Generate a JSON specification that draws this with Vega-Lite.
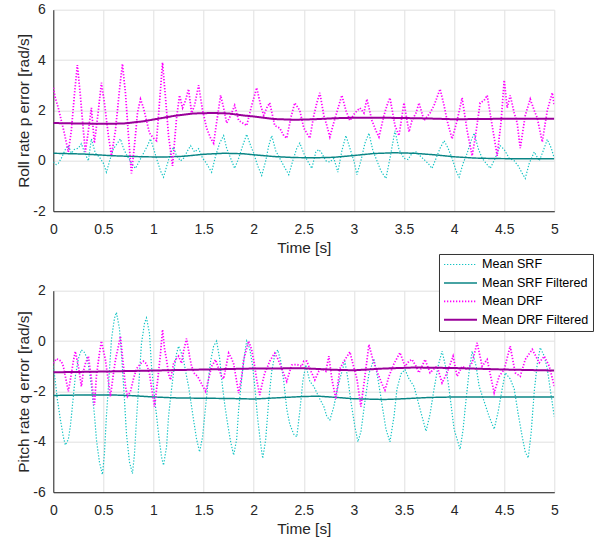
{
  "$schema": "https://vega.github.io/schema/vega-lite/v6.json",
  "background": "white",
  "padding": {"left": 16.3, "top": 2.7, "right": 0, "bottom": 0},
  "config": {
    "font": "Liberation Sans",
    "view": {"stroke": null},
    "axis": {
      "labelFont": "Liberation Sans", "titleFont": "Liberation Sans",
      "labelFontSize": 14, "titleFontSize": 15.4, "titleFontWeight": "normal",
      "labelColor": "#262626", "titleColor": "#262626",
      "domainColor": "#262626", "tickColor": "#262626", "tickSize": 0,
      "gridColor": "#e0e0e0", "labelFlush": false, "labelOverlap": false
    },
    "axisX": {"labelPadding": 11, "titlePadding": 4},
    "axisY": {"labelPadding": 8, "titlePadding": 1}
  },
  "datasets": {
    "top": [
      {"t":0.00,"v":-0.05,"s":"Mean SRF"},{"t":0.03,"v":-0.15,"s":"Mean SRF"},{"t":0.05,"v":-0.1,"s":"Mean SRF"},{"t":0.08,"v":0.1,"s":"Mean SRF"},{"t":0.12,"v":0.45,"s":"Mean SRF"},{"t":0.15,"v":0.6,"s":"Mean SRF"},{"t":0.18,"v":0.3,"s":"Mean SRF"},{"t":0.21,"v":0.45,"s":"Mean SRF"},{"t":0.25,"v":0.5,"s":"Mean SRF"},{"t":0.28,"v":0.68,"s":"Mean SRF"},{"t":0.31,"v":0.35,"s":"Mean SRF"},{"t":0.35,"v":0.0,"s":"Mean SRF"},{"t":0.38,"v":0.87,"s":"Mean SRF"},{"t":0.42,"v":0.3,"s":"Mean SRF"},{"t":0.46,"v":0.15,"s":"Mean SRF"},{"t":0.50,"v":-0.1,"s":"Mean SRF"},{"t":0.53,"v":-0.45,"s":"Mean SRF"},{"t":0.57,"v":0.1,"s":"Mean SRF"},{"t":0.60,"v":0.48,"s":"Mean SRF"},{"t":0.64,"v":0.7,"s":"Mean SRF"},{"t":0.67,"v":0.87,"s":"Mean SRF"},{"t":0.70,"v":0.5,"s":"Mean SRF"},{"t":0.73,"v":0.25,"s":"Mean SRF"},{"t":0.78,"v":-0.1,"s":"Mean SRF"},{"t":0.82,"v":-0.3,"s":"Mean SRF"},{"t":0.86,"v":0.0,"s":"Mean SRF"},{"t":0.90,"v":0.3,"s":"Mean SRF"},{"t":0.94,"v":0.6,"s":"Mean SRF"},{"t":0.97,"v":0.87,"s":"Mean SRF"},{"t":1.00,"v":0.5,"s":"Mean SRF"},{"t":1.03,"v":0.1,"s":"Mean SRF"},{"t":1.07,"v":-0.4,"s":"Mean SRF"},{"t":1.10,"v":-0.65,"s":"Mean SRF"},{"t":1.14,"v":-0.1,"s":"Mean SRF"},{"t":1.17,"v":0.3,"s":"Mean SRF"},{"t":1.20,"v":0.54,"s":"Mean SRF"},{"t":1.23,"v":0.2,"s":"Mean SRF"},{"t":1.27,"v":0.0,"s":"Mean SRF"},{"t":1.30,"v":0.1,"s":"Mean SRF"},{"t":1.34,"v":0.4,"s":"Mean SRF"},{"t":1.37,"v":0.6,"s":"Mean SRF"},{"t":1.41,"v":0.35,"s":"Mean SRF"},{"t":1.45,"v":0.48,"s":"Mean SRF"},{"t":1.49,"v":0.1,"s":"Mean SRF"},{"t":1.52,"v":-0.05,"s":"Mean SRF"},{"t":1.55,"v":-0.25,"s":"Mean SRF"},{"t":1.58,"v":-0.45,"s":"Mean SRF"},{"t":1.62,"v":0.2,"s":"Mean SRF"},{"t":1.66,"v":0.7,"s":"Mean SRF"},{"t":1.70,"v":1.0,"s":"Mean SRF"},{"t":1.73,"v":0.5,"s":"Mean SRF"},{"t":1.77,"v":0.1,"s":"Mean SRF"},{"t":1.81,"v":-0.3,"s":"Mean SRF"},{"t":1.85,"v":0.1,"s":"Mean SRF"},{"t":1.89,"v":0.6,"s":"Mean SRF"},{"t":1.93,"v":1.05,"s":"Mean SRF"},{"t":1.97,"v":0.6,"s":"Mean SRF"},{"t":2.00,"v":0.3,"s":"Mean SRF"},{"t":2.04,"v":-0.2,"s":"Mean SRF"},{"t":2.08,"v":-0.58,"s":"Mean SRF"},{"t":2.12,"v":0.0,"s":"Mean SRF"},{"t":2.15,"v":0.6,"s":"Mean SRF"},{"t":2.18,"v":1.0,"s":"Mean SRF"},{"t":2.22,"v":0.4,"s":"Mean SRF"},{"t":2.26,"v":0.1,"s":"Mean SRF"},{"t":2.30,"v":-0.2,"s":"Mean SRF"},{"t":2.35,"v":-0.55,"s":"Mean SRF"},{"t":2.39,"v":0.0,"s":"Mean SRF"},{"t":2.43,"v":0.5,"s":"Mean SRF"},{"t":2.46,"v":0.7,"s":"Mean SRF"},{"t":2.50,"v":0.3,"s":"Mean SRF"},{"t":2.53,"v":0.05,"s":"Mean SRF"},{"t":2.58,"v":-0.3,"s":"Mean SRF"},{"t":2.62,"v":0.35,"s":"Mean SRF"},{"t":2.65,"v":0.45,"s":"Mean SRF"},{"t":2.68,"v":0.3,"s":"Mean SRF"},{"t":2.72,"v":0.0,"s":"Mean SRF"},{"t":2.76,"v":-0.05,"s":"Mean SRF"},{"t":2.80,"v":0.1,"s":"Mean SRF"},{"t":2.84,"v":-0.45,"s":"Mean SRF"},{"t":2.88,"v":0.4,"s":"Mean SRF"},{"t":2.92,"v":1.0,"s":"Mean SRF"},{"t":2.96,"v":0.5,"s":"Mean SRF"},{"t":3.00,"v":0.0,"s":"Mean SRF"},{"t":3.03,"v":-0.55,"s":"Mean SRF"},{"t":3.07,"v":0.0,"s":"Mean SRF"},{"t":3.11,"v":0.7,"s":"Mean SRF"},{"t":3.15,"v":1.1,"s":"Mean SRF"},{"t":3.19,"v":0.4,"s":"Mean SRF"},{"t":3.23,"v":0.0,"s":"Mean SRF"},{"t":3.27,"v":-0.4,"s":"Mean SRF"},{"t":3.32,"v":-0.7,"s":"Mean SRF"},{"t":3.36,"v":0.1,"s":"Mean SRF"},{"t":3.41,"v":1.2,"s":"Mean SRF"},{"t":3.45,"v":0.45,"s":"Mean SRF"},{"t":3.50,"v":0.1,"s":"Mean SRF"},{"t":3.54,"v":0.05,"s":"Mean SRF"},{"t":3.58,"v":0.3,"s":"Mean SRF"},{"t":3.62,"v":0.35,"s":"Mean SRF"},{"t":3.66,"v":0.2,"s":"Mean SRF"},{"t":3.70,"v":0.05,"s":"Mean SRF"},{"t":3.74,"v":-0.1,"s":"Mean SRF"},{"t":3.78,"v":-0.3,"s":"Mean SRF"},{"t":3.82,"v":0.1,"s":"Mean SRF"},{"t":3.86,"v":0.5,"s":"Mean SRF"},{"t":3.90,"v":0.8,"s":"Mean SRF"},{"t":3.94,"v":0.5,"s":"Mean SRF"},{"t":3.98,"v":0.1,"s":"Mean SRF"},{"t":4.02,"v":-0.4,"s":"Mean SRF"},{"t":4.05,"v":-0.65,"s":"Mean SRF"},{"t":4.09,"v":-0.1,"s":"Mean SRF"},{"t":4.13,"v":0.3,"s":"Mean SRF"},{"t":4.17,"v":0.8,"s":"Mean SRF"},{"t":4.20,"v":1.1,"s":"Mean SRF"},{"t":4.24,"v":0.5,"s":"Mean SRF"},{"t":4.28,"v":0.1,"s":"Mean SRF"},{"t":4.32,"v":-0.1,"s":"Mean SRF"},{"t":4.36,"v":-0.3,"s":"Mean SRF"},{"t":4.41,"v":0.1,"s":"Mean SRF"},{"t":4.46,"v":0.6,"s":"Mean SRF"},{"t":4.50,"v":0.45,"s":"Mean SRF"},{"t":4.55,"v":0.1,"s":"Mean SRF"},{"t":4.60,"v":0.0,"s":"Mean SRF"},{"t":4.64,"v":-0.2,"s":"Mean SRF"},{"t":4.68,"v":-0.5,"s":"Mean SRF"},{"t":4.71,"v":-0.7,"s":"Mean SRF"},{"t":4.75,"v":-0.1,"s":"Mean SRF"},{"t":4.80,"v":0.35,"s":"Mean SRF"},{"t":4.85,"v":0.0,"s":"Mean SRF"},{"t":4.89,"v":0.4,"s":"Mean SRF"},{"t":4.93,"v":0.85,"s":"Mean SRF"},{"t":4.97,"v":0.5,"s":"Mean SRF"},{"t":5.00,"v":0.1,"s":"Mean SRF"},
      {"t":0.0,"v":0.3,"s":"Mean SRF Filtered"},{"t":0.3,"v":0.27,"s":"Mean SRF Filtered"},{"t":0.6,"v":0.2,"s":"Mean SRF Filtered"},{"t":0.9,"v":0.16,"s":"Mean SRF Filtered"},{"t":1.1,"v":0.15,"s":"Mean SRF Filtered"},{"t":1.3,"v":0.18,"s":"Mean SRF Filtered"},{"t":1.5,"v":0.26,"s":"Mean SRF Filtered"},{"t":1.7,"v":0.3,"s":"Mean SRF Filtered"},{"t":1.9,"v":0.28,"s":"Mean SRF Filtered"},{"t":2.0,"v":0.24,"s":"Mean SRF Filtered"},{"t":2.2,"v":0.17,"s":"Mean SRF Filtered"},{"t":2.4,"v":0.13,"s":"Mean SRF Filtered"},{"t":2.6,"v":0.12,"s":"Mean SRF Filtered"},{"t":2.8,"v":0.14,"s":"Mean SRF Filtered"},{"t":3.0,"v":0.21,"s":"Mean SRF Filtered"},{"t":3.2,"v":0.29,"s":"Mean SRF Filtered"},{"t":3.4,"v":0.32,"s":"Mean SRF Filtered"},{"t":3.6,"v":0.3,"s":"Mean SRF Filtered"},{"t":3.8,"v":0.24,"s":"Mean SRF Filtered"},{"t":4.0,"v":0.16,"s":"Mean SRF Filtered"},{"t":4.2,"v":0.11,"s":"Mean SRF Filtered"},{"t":4.4,"v":0.09,"s":"Mean SRF Filtered"},{"t":4.7,"v":0.08,"s":"Mean SRF Filtered"},{"t":5.0,"v":0.08,"s":"Mean SRF Filtered"},
      {"t":0.00,"v":2.9,"s":"Mean DRF"},{"t":0.02,"v":2.5,"s":"Mean DRF"},{"t":0.05,"v":2.1,"s":"Mean DRF"},{"t":0.08,"v":1.6,"s":"Mean DRF"},{"t":0.11,"v":1.1,"s":"Mean DRF"},{"t":0.15,"v":0.35,"s":"Mean DRF"},{"t":0.18,"v":1.2,"s":"Mean DRF"},{"t":0.21,"v":2.6,"s":"Mean DRF"},{"t":0.24,"v":3.8,"s":"Mean DRF"},{"t":0.27,"v":2.6,"s":"Mean DRF"},{"t":0.30,"v":1.2,"s":"Mean DRF"},{"t":0.32,"v":0.35,"s":"Mean DRF"},{"t":0.35,"v":1.2,"s":"Mean DRF"},{"t":0.38,"v":2.1,"s":"Mean DRF"},{"t":0.41,"v":0.7,"s":"Mean DRF"},{"t":0.45,"v":2.0,"s":"Mean DRF"},{"t":0.48,"v":3.1,"s":"Mean DRF"},{"t":0.51,"v":2.3,"s":"Mean DRF"},{"t":0.55,"v":1.0,"s":"Mean DRF"},{"t":0.58,"v":0.2,"s":"Mean DRF"},{"t":0.62,"v":1.2,"s":"Mean DRF"},{"t":0.66,"v":2.8,"s":"Mean DRF"},{"t":0.69,"v":3.85,"s":"Mean DRF"},{"t":0.72,"v":2.7,"s":"Mean DRF"},{"t":0.75,"v":1.0,"s":"Mean DRF"},{"t":0.78,"v":-0.5,"s":"Mean DRF"},{"t":0.81,"v":0.6,"s":"Mean DRF"},{"t":0.84,"v":1.9,"s":"Mean DRF"},{"t":0.87,"v":2.45,"s":"Mean DRF"},{"t":0.90,"v":2.1,"s":"Mean DRF"},{"t":0.93,"v":1.6,"s":"Mean DRF"},{"t":0.96,"v":1.1,"s":"Mean DRF"},{"t":1.00,"v":0.9,"s":"Mean DRF"},{"t":1.03,"v":0.8,"s":"Mean DRF"},{"t":1.06,"v":2.3,"s":"Mean DRF"},{"t":1.09,"v":3.9,"s":"Mean DRF"},{"t":1.12,"v":2.5,"s":"Mean DRF"},{"t":1.15,"v":1.0,"s":"Mean DRF"},{"t":1.19,"v":-0.2,"s":"Mean DRF"},{"t":1.23,"v":1.7,"s":"Mean DRF"},{"t":1.26,"v":2.6,"s":"Mean DRF"},{"t":1.29,"v":2.1,"s":"Mean DRF"},{"t":1.32,"v":2.4,"s":"Mean DRF"},{"t":1.35,"v":2.85,"s":"Mean DRF"},{"t":1.38,"v":1.9,"s":"Mean DRF"},{"t":1.41,"v":2.2,"s":"Mean DRF"},{"t":1.45,"v":3.0,"s":"Mean DRF"},{"t":1.49,"v":2.0,"s":"Mean DRF"},{"t":1.53,"v":1.3,"s":"Mean DRF"},{"t":1.57,"v":0.9,"s":"Mean DRF"},{"t":1.60,"v":0.7,"s":"Mean DRF"},{"t":1.64,"v":1.8,"s":"Mean DRF"},{"t":1.67,"v":2.6,"s":"Mean DRF"},{"t":1.70,"v":2.1,"s":"Mean DRF"},{"t":1.73,"v":1.5,"s":"Mean DRF"},{"t":1.77,"v":1.8,"s":"Mean DRF"},{"t":1.81,"v":2.2,"s":"Mean DRF"},{"t":1.85,"v":1.6,"s":"Mean DRF"},{"t":1.89,"v":1.5,"s":"Mean DRF"},{"t":1.93,"v":1.4,"s":"Mean DRF"},{"t":1.98,"v":2.2,"s":"Mean DRF"},{"t":2.03,"v":2.9,"s":"Mean DRF"},{"t":2.07,"v":2.2,"s":"Mean DRF"},{"t":2.10,"v":1.8,"s":"Mean DRF"},{"t":2.13,"v":2.1,"s":"Mean DRF"},{"t":2.16,"v":2.3,"s":"Mean DRF"},{"t":2.21,"v":1.4,"s":"Mean DRF"},{"t":2.26,"v":1.3,"s":"Mean DRF"},{"t":2.30,"v":1.0,"s":"Mean DRF"},{"t":2.33,"v":0.9,"s":"Mean DRF"},{"t":2.37,"v":1.7,"s":"Mean DRF"},{"t":2.41,"v":2.3,"s":"Mean DRF"},{"t":2.46,"v":2.0,"s":"Mean DRF"},{"t":2.50,"v":1.3,"s":"Mean DRF"},{"t":2.53,"v":1.1,"s":"Mean DRF"},{"t":2.56,"v":0.9,"s":"Mean DRF"},{"t":2.60,"v":1.8,"s":"Mean DRF"},{"t":2.63,"v":2.3,"s":"Mean DRF"},{"t":2.66,"v":2.7,"s":"Mean DRF"},{"t":2.70,"v":1.8,"s":"Mean DRF"},{"t":2.73,"v":1.4,"s":"Mean DRF"},{"t":2.76,"v":0.95,"s":"Mean DRF"},{"t":2.81,"v":1.67,"s":"Mean DRF"},{"t":2.85,"v":2.2,"s":"Mean DRF"},{"t":2.88,"v":2.6,"s":"Mean DRF"},{"t":2.92,"v":2.0,"s":"Mean DRF"},{"t":2.96,"v":1.6,"s":"Mean DRF"},{"t":3.01,"v":1.9,"s":"Mean DRF"},{"t":3.06,"v":2.1,"s":"Mean DRF"},{"t":3.10,"v":1.9,"s":"Mean DRF"},{"t":3.13,"v":2.45,"s":"Mean DRF"},{"t":3.18,"v":1.6,"s":"Mean DRF"},{"t":3.22,"v":1.2,"s":"Mean DRF"},{"t":3.25,"v":0.95,"s":"Mean DRF"},{"t":3.30,"v":1.8,"s":"Mean DRF"},{"t":3.33,"v":2.2,"s":"Mean DRF"},{"t":3.36,"v":2.5,"s":"Mean DRF"},{"t":3.41,"v":1.4,"s":"Mean DRF"},{"t":3.45,"v":1.0,"s":"Mean DRF"},{"t":3.50,"v":2.3,"s":"Mean DRF"},{"t":3.55,"v":1.15,"s":"Mean DRF"},{"t":3.58,"v":1.6,"s":"Mean DRF"},{"t":3.62,"v":1.9,"s":"Mean DRF"},{"t":3.65,"v":2.3,"s":"Mean DRF"},{"t":3.70,"v":1.6,"s":"Mean DRF"},{"t":3.76,"v":1.9,"s":"Mean DRF"},{"t":3.80,"v":2.2,"s":"Mean DRF"},{"t":3.86,"v":2.85,"s":"Mean DRF"},{"t":3.90,"v":2.2,"s":"Mean DRF"},{"t":3.93,"v":1.6,"s":"Mean DRF"},{"t":3.98,"v":0.87,"s":"Mean DRF"},{"t":4.03,"v":1.6,"s":"Mean DRF"},{"t":4.08,"v":2.5,"s":"Mean DRF"},{"t":4.13,"v":1.2,"s":"Mean DRF"},{"t":4.18,"v":0.2,"s":"Mean DRF"},{"t":4.21,"v":0.9,"s":"Mean DRF"},{"t":4.26,"v":2.3,"s":"Mean DRF"},{"t":4.30,"v":2.4,"s":"Mean DRF"},{"t":4.33,"v":2.6,"s":"Mean DRF"},{"t":4.38,"v":1.4,"s":"Mean DRF"},{"t":4.43,"v":0.2,"s":"Mean DRF"},{"t":4.47,"v":1.6,"s":"Mean DRF"},{"t":4.50,"v":3.2,"s":"Mean DRF"},{"t":4.53,"v":2.1,"s":"Mean DRF"},{"t":4.56,"v":2.6,"s":"Mean DRF"},{"t":4.60,"v":1.9,"s":"Mean DRF"},{"t":4.63,"v":1.5,"s":"Mean DRF"},{"t":4.66,"v":0.5,"s":"Mean DRF"},{"t":4.71,"v":1.8,"s":"Mean DRF"},{"t":4.76,"v":2.45,"s":"Mean DRF"},{"t":4.80,"v":2.0,"s":"Mean DRF"},{"t":4.83,"v":1.7,"s":"Mean DRF"},{"t":4.88,"v":0.75,"s":"Mean DRF"},{"t":4.93,"v":2.0,"s":"Mean DRF"},{"t":4.98,"v":2.7,"s":"Mean DRF"},{"t":5.00,"v":2.2,"s":"Mean DRF"},
      {"t":0.0,"v":1.5,"s":"Mean DRF Filtered"},{"t":0.3,"v":1.48,"s":"Mean DRF Filtered"},{"t":0.5,"v":1.47,"s":"Mean DRF Filtered"},{"t":0.7,"v":1.48,"s":"Mean DRF Filtered"},{"t":0.9,"v":1.57,"s":"Mean DRF Filtered"},{"t":1.0,"v":1.64,"s":"Mean DRF Filtered"},{"t":1.2,"v":1.78,"s":"Mean DRF Filtered"},{"t":1.4,"v":1.88,"s":"Mean DRF Filtered"},{"t":1.6,"v":1.9,"s":"Mean DRF Filtered"},{"t":1.75,"v":1.88,"s":"Mean DRF Filtered"},{"t":1.9,"v":1.8,"s":"Mean DRF Filtered"},{"t":2.0,"v":1.76,"s":"Mean DRF Filtered"},{"t":2.2,"v":1.66,"s":"Mean DRF Filtered"},{"t":2.4,"v":1.63,"s":"Mean DRF Filtered"},{"t":2.6,"v":1.65,"s":"Mean DRF Filtered"},{"t":2.8,"v":1.69,"s":"Mean DRF Filtered"},{"t":3.0,"v":1.71,"s":"Mean DRF Filtered"},{"t":3.25,"v":1.71,"s":"Mean DRF Filtered"},{"t":3.5,"v":1.7,"s":"Mean DRF Filtered"},{"t":3.75,"v":1.68,"s":"Mean DRF Filtered"},{"t":4.0,"v":1.65,"s":"Mean DRF Filtered"},{"t":4.25,"v":1.66,"s":"Mean DRF Filtered"},{"t":4.5,"v":1.67,"s":"Mean DRF Filtered"},{"t":4.75,"v":1.67,"s":"Mean DRF Filtered"},{"t":5.0,"v":1.67,"s":"Mean DRF Filtered"}
    ],
    "bottom": [
      {"t":0.00,"v":-1.0,"s":"Mean SRF"},{"t":0.02,"v":-1.6,"s":"Mean SRF"},{"t":0.04,"v":-2.3,"s":"Mean SRF"},{"t":0.07,"v":-3.1,"s":"Mean SRF"},{"t":0.10,"v":-3.8,"s":"Mean SRF"},{"t":0.12,"v":-4.13,"s":"Mean SRF"},{"t":0.15,"v":-3.9,"s":"Mean SRF"},{"t":0.17,"v":-3.4,"s":"Mean SRF"},{"t":0.20,"v":-2.2,"s":"Mean SRF"},{"t":0.22,"v":-1.4,"s":"Mean SRF"},{"t":0.25,"v":-0.7,"s":"Mean SRF"},{"t":0.28,"v":-0.35,"s":"Mean SRF"},{"t":0.31,"v":-0.45,"s":"Mean SRF"},{"t":0.34,"v":-0.7,"s":"Mean SRF"},{"t":0.36,"v":-1.2,"s":"Mean SRF"},{"t":0.38,"v":-1.8,"s":"Mean SRF"},{"t":0.41,"v":-2.9,"s":"Mean SRF"},{"t":0.43,"v":-3.9,"s":"Mean SRF"},{"t":0.46,"v":-4.8,"s":"Mean SRF"},{"t":0.49,"v":-5.3,"s":"Mean SRF"},{"t":0.51,"v":-4.5,"s":"Mean SRF"},{"t":0.53,"v":-3.0,"s":"Mean SRF"},{"t":0.56,"v":-1.2,"s":"Mean SRF"},{"t":0.58,"v":0.05,"s":"Mean SRF"},{"t":0.61,"v":0.9,"s":"Mean SRF"},{"t":0.63,"v":1.14,"s":"Mean SRF"},{"t":0.66,"v":0.5,"s":"Mean SRF"},{"t":0.68,"v":-0.5,"s":"Mean SRF"},{"t":0.71,"v":-2.3,"s":"Mean SRF"},{"t":0.73,"v":-3.67,"s":"Mean SRF"},{"t":0.76,"v":-4.8,"s":"Mean SRF"},{"t":0.79,"v":-5.26,"s":"Mean SRF"},{"t":0.81,"v":-4.5,"s":"Mean SRF"},{"t":0.83,"v":-3.13,"s":"Mean SRF"},{"t":0.86,"v":-1.3,"s":"Mean SRF"},{"t":0.88,"v":-0.1,"s":"Mean SRF"},{"t":0.91,"v":0.7,"s":"Mean SRF"},{"t":0.93,"v":0.92,"s":"Mean SRF"},{"t":0.96,"v":0.3,"s":"Mean SRF"},{"t":0.98,"v":-1.0,"s":"Mean SRF"},{"t":1.02,"v":-2.6,"s":"Mean SRF"},{"t":1.05,"v":-3.67,"s":"Mean SRF"},{"t":1.08,"v":-4.6,"s":"Mean SRF"},{"t":1.10,"v":-4.93,"s":"Mean SRF"},{"t":1.13,"v":-4.2,"s":"Mean SRF"},{"t":1.15,"v":-3.0,"s":"Mean SRF"},{"t":1.18,"v":-1.9,"s":"Mean SRF"},{"t":1.20,"v":-1.27,"s":"Mean SRF"},{"t":1.23,"v":-0.5,"s":"Mean SRF"},{"t":1.25,"v":-0.2,"s":"Mean SRF"},{"t":1.28,"v":-0.5,"s":"Mean SRF"},{"t":1.30,"v":-0.75,"s":"Mean SRF"},{"t":1.33,"v":-1.4,"s":"Mean SRF"},{"t":1.35,"v":-1.8,"s":"Mean SRF"},{"t":1.38,"v":-2.6,"s":"Mean SRF"},{"t":1.40,"v":-3.13,"s":"Mean SRF"},{"t":1.43,"v":-3.9,"s":"Mean SRF"},{"t":1.46,"v":-4.4,"s":"Mean SRF"},{"t":1.49,"v":-3.8,"s":"Mean SRF"},{"t":1.51,"v":-3.0,"s":"Mean SRF"},{"t":1.54,"v":-1.8,"s":"Mean SRF"},{"t":1.57,"v":-0.8,"s":"Mean SRF"},{"t":1.60,"v":-0.2,"s":"Mean SRF"},{"t":1.63,"v":0.0,"s":"Mean SRF"},{"t":1.66,"v":-0.7,"s":"Mean SRF"},{"t":1.68,"v":-1.5,"s":"Mean SRF"},{"t":1.71,"v":-2.5,"s":"Mean SRF"},{"t":1.74,"v":-3.3,"s":"Mean SRF"},{"t":1.77,"v":-4.0,"s":"Mean SRF"},{"t":1.80,"v":-4.53,"s":"Mean SRF"},{"t":1.83,"v":-3.9,"s":"Mean SRF"},{"t":1.85,"v":-2.7,"s":"Mean SRF"},{"t":1.88,"v":-1.5,"s":"Mean SRF"},{"t":1.91,"v":-0.5,"s":"Mean SRF"},{"t":1.93,"v":0.0,"s":"Mean SRF"},{"t":1.96,"v":-0.3,"s":"Mean SRF"},{"t":1.99,"v":-1.0,"s":"Mean SRF"},{"t":2.02,"v":-2.2,"s":"Mean SRF"},{"t":2.04,"v":-3.1,"s":"Mean SRF"},{"t":2.07,"v":-4.1,"s":"Mean SRF"},{"t":2.09,"v":-4.66,"s":"Mean SRF"},{"t":2.12,"v":-3.9,"s":"Mean SRF"},{"t":2.15,"v":-2.35,"s":"Mean SRF"},{"t":2.18,"v":-1.2,"s":"Mean SRF"},{"t":2.21,"v":-0.55,"s":"Mean SRF"},{"t":2.24,"v":-0.35,"s":"Mean SRF"},{"t":2.27,"v":-0.8,"s":"Mean SRF"},{"t":2.30,"v":-1.6,"s":"Mean SRF"},{"t":2.33,"v":-2.7,"s":"Mean SRF"},{"t":2.36,"v":-3.3,"s":"Mean SRF"},{"t":2.40,"v":-3.7,"s":"Mean SRF"},{"t":2.43,"v":-3.8,"s":"Mean SRF"},{"t":2.46,"v":-2.8,"s":"Mean SRF"},{"t":2.49,"v":-1.6,"s":"Mean SRF"},{"t":2.52,"v":-0.94,"s":"Mean SRF"},{"t":2.56,"v":-1.6,"s":"Mean SRF"},{"t":2.60,"v":-1.8,"s":"Mean SRF"},{"t":2.63,"v":-2.05,"s":"Mean SRF"},{"t":2.66,"v":-2.3,"s":"Mean SRF"},{"t":2.70,"v":-2.6,"s":"Mean SRF"},{"t":2.73,"v":-3.0,"s":"Mean SRF"},{"t":2.76,"v":-3.13,"s":"Mean SRF"},{"t":2.80,"v":-2.6,"s":"Mean SRF"},{"t":2.83,"v":-2.0,"s":"Mean SRF"},{"t":2.86,"v":-1.5,"s":"Mean SRF"},{"t":2.91,"v":-0.8,"s":"Mean SRF"},{"t":2.94,"v":-1.5,"s":"Mean SRF"},{"t":2.97,"v":-2.4,"s":"Mean SRF"},{"t":3.01,"v":-3.4,"s":"Mean SRF"},{"t":3.04,"v":-4.0,"s":"Mean SRF"},{"t":3.07,"v":-3.6,"s":"Mean SRF"},{"t":3.11,"v":-2.4,"s":"Mean SRF"},{"t":3.15,"v":-1.3,"s":"Mean SRF"},{"t":3.20,"v":-0.7,"s":"Mean SRF"},{"t":3.24,"v":-1.5,"s":"Mean SRF"},{"t":3.28,"v":-2.5,"s":"Mean SRF"},{"t":3.32,"v":-3.5,"s":"Mean SRF"},{"t":3.36,"v":-4.0,"s":"Mean SRF"},{"t":3.40,"v":-3.0,"s":"Mean SRF"},{"t":3.43,"v":-1.9,"s":"Mean SRF"},{"t":3.47,"v":-1.3,"s":"Mean SRF"},{"t":3.51,"v":-1.13,"s":"Mean SRF"},{"t":3.55,"v":-1.5,"s":"Mean SRF"},{"t":3.60,"v":-1.8,"s":"Mean SRF"},{"t":3.66,"v":-2.7,"s":"Mean SRF"},{"t":3.72,"v":-3.58,"s":"Mean SRF"},{"t":3.76,"v":-2.9,"s":"Mean SRF"},{"t":3.80,"v":-1.9,"s":"Mean SRF"},{"t":3.84,"v":-1.0,"s":"Mean SRF"},{"t":3.88,"v":-0.4,"s":"Mean SRF"},{"t":3.92,"v":-1.1,"s":"Mean SRF"},{"t":3.95,"v":-1.9,"s":"Mean SRF"},{"t":4.00,"v":-3.5,"s":"Mean SRF"},{"t":4.06,"v":-4.3,"s":"Mean SRF"},{"t":4.09,"v":-3.5,"s":"Mean SRF"},{"t":4.12,"v":-2.3,"s":"Mean SRF"},{"t":4.15,"v":-1.2,"s":"Mean SRF"},{"t":4.18,"v":-0.4,"s":"Mean SRF"},{"t":4.22,"v":-1.0,"s":"Mean SRF"},{"t":4.25,"v":-1.8,"s":"Mean SRF"},{"t":4.30,"v":-2.4,"s":"Mean SRF"},{"t":4.35,"v":-3.0,"s":"Mean SRF"},{"t":4.40,"v":-3.5,"s":"Mean SRF"},{"t":4.44,"v":-2.8,"s":"Mean SRF"},{"t":4.48,"v":-1.9,"s":"Mean SRF"},{"t":4.51,"v":-1.26,"s":"Mean SRF"},{"t":4.56,"v":-1.5,"s":"Mean SRF"},{"t":4.60,"v":-1.9,"s":"Mean SRF"},{"t":4.64,"v":-2.9,"s":"Mean SRF"},{"t":4.68,"v":-3.8,"s":"Mean SRF"},{"t":4.71,"v":-4.4,"s":"Mean SRF"},{"t":4.74,"v":-4.64,"s":"Mean SRF"},{"t":4.77,"v":-3.6,"s":"Mean SRF"},{"t":4.80,"v":-2.0,"s":"Mean SRF"},{"t":4.83,"v":-0.9,"s":"Mean SRF"},{"t":4.86,"v":-0.26,"s":"Mean SRF"},{"t":4.90,"v":-0.6,"s":"Mean SRF"},{"t":4.93,"v":-1.1,"s":"Mean SRF"},{"t":4.97,"v":-2.2,"s":"Mean SRF"},{"t":5.00,"v":-3.0,"s":"Mean SRF"},
      {"t":0.0,"v":-2.16,"s":"Mean SRF Filtered"},{"t":0.3,"v":-2.14,"s":"Mean SRF Filtered"},{"t":0.6,"v":-2.14,"s":"Mean SRF Filtered"},{"t":0.8,"v":-2.17,"s":"Mean SRF Filtered"},{"t":1.0,"v":-2.22,"s":"Mean SRF Filtered"},{"t":1.25,"v":-2.26,"s":"Mean SRF Filtered"},{"t":1.5,"v":-2.27,"s":"Mean SRF Filtered"},{"t":1.75,"v":-2.28,"s":"Mean SRF Filtered"},{"t":2.0,"v":-2.3,"s":"Mean SRF Filtered"},{"t":2.25,"v":-2.25,"s":"Mean SRF Filtered"},{"t":2.5,"v":-2.2,"s":"Mean SRF Filtered"},{"t":2.65,"v":-2.19,"s":"Mean SRF Filtered"},{"t":2.8,"v":-2.23,"s":"Mean SRF Filtered"},{"t":3.0,"v":-2.29,"s":"Mean SRF Filtered"},{"t":3.3,"v":-2.32,"s":"Mean SRF Filtered"},{"t":3.5,"v":-2.29,"s":"Mean SRF Filtered"},{"t":3.75,"v":-2.24,"s":"Mean SRF Filtered"},{"t":4.0,"v":-2.22,"s":"Mean SRF Filtered"},{"t":4.5,"v":-2.22,"s":"Mean SRF Filtered"},{"t":5.0,"v":-2.22,"s":"Mean SRF Filtered"},
      {"t":0.00,"v":-0.88,"s":"Mean DRF"},{"t":0.03,"v":-0.7,"s":"Mean DRF"},{"t":0.05,"v":-0.74,"s":"Mean DRF"},{"t":0.08,"v":-0.8,"s":"Mean DRF"},{"t":0.10,"v":-1.0,"s":"Mean DRF"},{"t":0.13,"v":-1.6,"s":"Mean DRF"},{"t":0.15,"v":-2.0,"s":"Mean DRF"},{"t":0.18,"v":-1.3,"s":"Mean DRF"},{"t":0.20,"v":-0.8,"s":"Mean DRF"},{"t":0.22,"v":-0.41,"s":"Mean DRF"},{"t":0.25,"v":-1.0,"s":"Mean DRF"},{"t":0.28,"v":-1.8,"s":"Mean DRF"},{"t":0.30,"v":-1.2,"s":"Mean DRF"},{"t":0.32,"v":-0.9,"s":"Mean DRF"},{"t":0.35,"v":-0.6,"s":"Mean DRF"},{"t":0.38,"v":-1.5,"s":"Mean DRF"},{"t":0.41,"v":-2.54,"s":"Mean DRF"},{"t":0.43,"v":-1.4,"s":"Mean DRF"},{"t":0.46,"v":-0.5,"s":"Mean DRF"},{"t":0.48,"v":0.0,"s":"Mean DRF"},{"t":0.52,"v":-0.75,"s":"Mean DRF"},{"t":0.55,"v":-1.6,"s":"Mean DRF"},{"t":0.57,"v":-2.2,"s":"Mean DRF"},{"t":0.60,"v":-1.3,"s":"Mean DRF"},{"t":0.62,"v":-0.75,"s":"Mean DRF"},{"t":0.65,"v":-0.2,"s":"Mean DRF"},{"t":0.67,"v":0.19,"s":"Mean DRF"},{"t":0.70,"v":-1.0,"s":"Mean DRF"},{"t":0.72,"v":-1.8,"s":"Mean DRF"},{"t":0.74,"v":-2.2,"s":"Mean DRF"},{"t":0.77,"v":-2.0,"s":"Mean DRF"},{"t":0.80,"v":-1.5,"s":"Mean DRF"},{"t":0.83,"v":-1.1,"s":"Mean DRF"},{"t":0.87,"v":-0.9,"s":"Mean DRF"},{"t":0.90,"v":-0.8,"s":"Mean DRF"},{"t":0.93,"v":-0.9,"s":"Mean DRF"},{"t":0.96,"v":-1.3,"s":"Mean DRF"},{"t":0.99,"v":-2.1,"s":"Mean DRF"},{"t":1.01,"v":-2.6,"s":"Mean DRF"},{"t":1.04,"v":-1.6,"s":"Mean DRF"},{"t":1.07,"v":-0.5,"s":"Mean DRF"},{"t":1.09,"v":0.45,"s":"Mean DRF"},{"t":1.11,"v":-0.3,"s":"Mean DRF"},{"t":1.13,"v":-0.74,"s":"Mean DRF"},{"t":1.15,"v":-1.3,"s":"Mean DRF"},{"t":1.17,"v":-1.54,"s":"Mean DRF"},{"t":1.20,"v":-0.9,"s":"Mean DRF"},{"t":1.22,"v":-0.74,"s":"Mean DRF"},{"t":1.25,"v":-0.6,"s":"Mean DRF"},{"t":1.28,"v":-0.88,"s":"Mean DRF"},{"t":1.30,"v":-0.4,"s":"Mean DRF"},{"t":1.33,"v":0.1,"s":"Mean DRF"},{"t":1.36,"v":-0.6,"s":"Mean DRF"},{"t":1.38,"v":-1.0,"s":"Mean DRF"},{"t":1.41,"v":-1.3,"s":"Mean DRF"},{"t":1.44,"v":-1.4,"s":"Mean DRF"},{"t":1.48,"v":-1.7,"s":"Mean DRF"},{"t":1.52,"v":-2.0,"s":"Mean DRF"},{"t":1.55,"v":-1.5,"s":"Mean DRF"},{"t":1.58,"v":-1.0,"s":"Mean DRF"},{"t":1.62,"v":-0.74,"s":"Mean DRF"},{"t":1.65,"v":-1.1,"s":"Mean DRF"},{"t":1.68,"v":-1.4,"s":"Mean DRF"},{"t":1.70,"v":-1.5,"s":"Mean DRF"},{"t":1.73,"v":-0.9,"s":"Mean DRF"},{"t":1.75,"v":-0.48,"s":"Mean DRF"},{"t":1.78,"v":-0.7,"s":"Mean DRF"},{"t":1.80,"v":-0.9,"s":"Mean DRF"},{"t":1.83,"v":-1.6,"s":"Mean DRF"},{"t":1.85,"v":-2.07,"s":"Mean DRF"},{"t":1.88,"v":-1.4,"s":"Mean DRF"},{"t":1.90,"v":-0.74,"s":"Mean DRF"},{"t":1.93,"v":-0.3,"s":"Mean DRF"},{"t":1.95,"v":0.0,"s":"Mean DRF"},{"t":1.98,"v":-0.35,"s":"Mean DRF"},{"t":2.01,"v":-1.0,"s":"Mean DRF"},{"t":2.03,"v":-1.54,"s":"Mean DRF"},{"t":2.06,"v":-2.14,"s":"Mean DRF"},{"t":2.09,"v":-1.6,"s":"Mean DRF"},{"t":2.11,"v":-1.27,"s":"Mean DRF"},{"t":2.14,"v":-1.0,"s":"Mean DRF"},{"t":2.16,"v":-0.8,"s":"Mean DRF"},{"t":2.19,"v":-0.6,"s":"Mean DRF"},{"t":2.21,"v":-0.48,"s":"Mean DRF"},{"t":2.24,"v":-0.7,"s":"Mean DRF"},{"t":2.26,"v":-0.88,"s":"Mean DRF"},{"t":2.30,"v":-1.3,"s":"Mean DRF"},{"t":2.33,"v":-1.6,"s":"Mean DRF"},{"t":2.36,"v":-1.2,"s":"Mean DRF"},{"t":2.38,"v":-0.95,"s":"Mean DRF"},{"t":2.43,"v":-0.93,"s":"Mean DRF"},{"t":2.48,"v":-1.0,"s":"Mean DRF"},{"t":2.50,"v":-0.8,"s":"Mean DRF"},{"t":2.53,"v":-0.8,"s":"Mean DRF"},{"t":2.56,"v":-1.1,"s":"Mean DRF"},{"t":2.61,"v":-1.54,"s":"Mean DRF"},{"t":2.65,"v":-1.2,"s":"Mean DRF"},{"t":2.68,"v":-1.1,"s":"Mean DRF"},{"t":2.72,"v":-1.2,"s":"Mean DRF"},{"t":2.75,"v":-0.6,"s":"Mean DRF"},{"t":2.78,"v":-1.5,"s":"Mean DRF"},{"t":2.82,"v":-2.3,"s":"Mean DRF"},{"t":2.86,"v":-1.1,"s":"Mean DRF"},{"t":2.90,"v":-0.8,"s":"Mean DRF"},{"t":2.96,"v":-0.43,"s":"Mean DRF"},{"t":2.99,"v":-0.9,"s":"Mean DRF"},{"t":3.03,"v":-1.5,"s":"Mean DRF"},{"t":3.07,"v":-2.6,"s":"Mean DRF"},{"t":3.11,"v":-1.4,"s":"Mean DRF"},{"t":3.15,"v":-0.14,"s":"Mean DRF"},{"t":3.19,"v":-0.75,"s":"Mean DRF"},{"t":3.24,"v":-1.3,"s":"Mean DRF"},{"t":3.28,"v":-1.7,"s":"Mean DRF"},{"t":3.31,"v":-1.95,"s":"Mean DRF"},{"t":3.35,"v":-1.4,"s":"Mean DRF"},{"t":3.40,"v":-0.9,"s":"Mean DRF"},{"t":3.46,"v":-0.46,"s":"Mean DRF"},{"t":3.51,"v":-1.0,"s":"Mean DRF"},{"t":3.55,"v":-0.8,"s":"Mean DRF"},{"t":3.58,"v":-0.73,"s":"Mean DRF"},{"t":3.62,"v":-1.0,"s":"Mean DRF"},{"t":3.65,"v":-1.26,"s":"Mean DRF"},{"t":3.71,"v":-0.73,"s":"Mean DRF"},{"t":3.76,"v":-1.26,"s":"Mean DRF"},{"t":3.80,"v":-1.1,"s":"Mean DRF"},{"t":3.83,"v":-1.0,"s":"Mean DRF"},{"t":3.88,"v":-1.66,"s":"Mean DRF"},{"t":3.93,"v":-1.26,"s":"Mean DRF"},{"t":3.99,"v":-0.6,"s":"Mean DRF"},{"t":4.03,"v":-1.4,"s":"Mean DRF"},{"t":4.08,"v":-1.0,"s":"Mean DRF"},{"t":4.13,"v":-1.13,"s":"Mean DRF"},{"t":4.18,"v":-0.86,"s":"Mean DRF"},{"t":4.23,"v":-0.07,"s":"Mean DRF"},{"t":4.28,"v":-1.0,"s":"Mean DRF"},{"t":4.33,"v":-0.73,"s":"Mean DRF"},{"t":4.36,"v":-1.3,"s":"Mean DRF"},{"t":4.40,"v":-2.05,"s":"Mean DRF"},{"t":4.45,"v":-1.4,"s":"Mean DRF"},{"t":4.50,"v":-1.13,"s":"Mean DRF"},{"t":4.56,"v":-0.2,"s":"Mean DRF"},{"t":4.61,"v":-1.26,"s":"Mean DRF"},{"t":4.66,"v":-1.4,"s":"Mean DRF"},{"t":4.71,"v":-0.73,"s":"Mean DRF"},{"t":4.78,"v":-0.33,"s":"Mean DRF"},{"t":4.85,"v":-0.86,"s":"Mean DRF"},{"t":4.90,"v":-0.6,"s":"Mean DRF"},{"t":4.95,"v":-1.0,"s":"Mean DRF"},{"t":5.00,"v":-1.79,"s":"Mean DRF"},
      {"t":0.0,"v":-1.24,"s":"Mean DRF Filtered"},{"t":0.5,"v":-1.21,"s":"Mean DRF Filtered"},{"t":1.0,"v":-1.17,"s":"Mean DRF Filtered"},{"t":1.5,"v":-1.13,"s":"Mean DRF Filtered"},{"t":2.0,"v":-1.09,"s":"Mean DRF Filtered"},{"t":2.5,"v":-1.08,"s":"Mean DRF Filtered"},{"t":2.8,"v":-1.14,"s":"Mean DRF Filtered"},{"t":3.0,"v":-1.16,"s":"Mean DRF Filtered"},{"t":3.3,"v":-1.09,"s":"Mean DRF Filtered"},{"t":3.6,"v":-1.05,"s":"Mean DRF Filtered"},{"t":4.0,"v":-1.07,"s":"Mean DRF Filtered"},{"t":4.5,"v":-1.13,"s":"Mean DRF Filtered"},{"t":5.0,"v":-1.17,"s":"Mean DRF Filtered"}
    ]
  },
  "spacing": 79,
  "bounds": "flush",
  "resolve": {"scale": {"color": "independent", "strokeDash": "independent", "strokeWidth": "independent"}},
  "vconcat": [
    {
      "width": 501, "height": 201.5,
      "data": {"name": "top"},
      "encoding": {
        "x": {"field": "t", "type": "quantitative", "scale": {"domain": [0, 5], "nice": false},
              "axis": {"values": [0,0.5,1,1.5,2,2.5,3,3.5,4,4.5,5], "format": "~g", "title": "Time [s]",
                       "encode": {"ticks": {"update": {"y2": {"value": -5}}}}}},
        "y": {"field": "v", "type": "quantitative", "scale": {"domain": [-2, 6], "nice": false},
              "axis": {"values": [-2,0,2,4,6], "labelExpr": "'' + datum.value", "title": "Roll rate p error [rad/s]",
                       "encode": {"ticks": {"update": {"x2": {"value": 5}}}}}},
        "color": {"field": "s", "type": "nominal", "legend": null,
                  "scale": {"domain": ["Mean SRF","Mean SRF Filtered","Mean DRF","Mean DRF Filtered"], "range": ["#14c4c4","#0a8585","#ff00ff","#990099"]}},
        "strokeDash": {"field": "s", "type": "nominal", "legend": null,
                  "scale": {"domain": ["Mean SRF","Mean SRF Filtered","Mean DRF","Mean DRF Filtered"], "range": [[1.3,1.7],[1,0],[1.3,1.7],[1,0]]}},
        "strokeWidth": {"field": "s", "type": "nominal", "legend": null,
                  "scale": {"domain": ["Mean SRF","Mean SRF Filtered","Mean DRF","Mean DRF Filtered"], "range": [1.2,2,1.2,2]}}
      },
      "layer": [
        {"transform": [{"filter": "datum.s === 'Mean SRF'"}], "mark": {"type": "line", "clip": true}},
        {"transform": [{"filter": "datum.s === 'Mean SRF Filtered'"}], "mark": {"type": "line", "clip": true}},
        {"transform": [{"filter": "datum.s === 'Mean DRF'"}], "mark": {"type": "line", "clip": true}},
        {"transform": [{"filter": "datum.s === 'Mean DRF Filtered'"}], "mark": {"type": "line", "clip": true}}
      ]
    },
    {
      "width": 501, "height": 201.5,
      "data": {"name": "bottom"},
      "encoding": {
        "x": {"field": "t", "type": "quantitative", "scale": {"domain": [0, 5], "nice": false},
              "axis": {"values": [0,0.5,1,1.5,2,2.5,3,3.5,4,4.5,5], "format": "~g", "title": "Time [s]",
                       "encode": {"ticks": {"update": {"y2": {"value": -5}}}}}},
        "y": {"field": "v", "type": "quantitative", "scale": {"domain": [-6, 2], "nice": false},
              "axis": {"values": [-6,-4,-2,0,2], "labelExpr": "'' + datum.value", "title": "Pitch rate q error [rad/s]",
                       "encode": {"ticks": {"update": {"x2": {"value": 5}}}}}},
        "color": {"field": "s", "type": "nominal",
                  "scale": {"domain": ["Mean SRF","Mean SRF Filtered","Mean DRF","Mean DRF Filtered"], "range": ["#14c4c4","#0a8585","#ff00ff","#990099"]},
                  "legend": {"orient": "none", "legendX": 385.7, "legendY": -36.7, "title": null,
                             "labelFont": "Liberation Sans", "labelFontSize": 12.6, "labelColor": "#000000",
                             "fillColor": "white", "strokeColor": "#333333", "padding": 4,
                             "symbolType": "stroke", "symbolSize": 1089,
                             "clipHeight": 13, "rowPadding": 4.4, "labelOffset": 4}},
        "strokeDash": {"field": "s", "type": "nominal",
                  "scale": {"domain": ["Mean SRF","Mean SRF Filtered","Mean DRF","Mean DRF Filtered"], "range": [[1.3,1.7],[1,0],[1.3,1.7],[1,0]]},
                  "legend": {"orient": "none", "legendX": 385.7, "legendY": -36.7, "title": null,
                             "labelFont": "Liberation Sans", "labelFontSize": 12.6, "labelColor": "#000000",
                             "fillColor": "white", "strokeColor": "#333333", "padding": 4,
                             "symbolType": "stroke", "symbolSize": 1089,
                             "clipHeight": 13, "rowPadding": 4.4, "labelOffset": 4}},
        "strokeWidth": {"field": "s", "type": "nominal",
                  "scale": {"domain": ["Mean SRF","Mean SRF Filtered","Mean DRF","Mean DRF Filtered"], "range": [1.2,2,1.2,2]},
                  "legend": {"orient": "none", "legendX": 385.7, "legendY": -36.7, "title": null,
                             "labelFont": "Liberation Sans", "labelFontSize": 12.6, "labelColor": "#000000",
                             "fillColor": "white", "strokeColor": "#333333", "padding": 4,
                             "symbolType": "stroke", "symbolSize": 1089,
                             "clipHeight": 13, "rowPadding": 4.4, "labelOffset": 4}}
      },
      "layer": [
        {"transform": [{"filter": "datum.s === 'Mean SRF'"}], "mark": {"type": "line", "clip": true}},
        {"transform": [{"filter": "datum.s === 'Mean SRF Filtered'"}], "mark": {"type": "line", "clip": true}},
        {"transform": [{"filter": "datum.s === 'Mean DRF'"}], "mark": {"type": "line", "clip": true}},
        {"transform": [{"filter": "datum.s === 'Mean DRF Filtered'"}], "mark": {"type": "line", "clip": true}}
      ]
    }
  ]
}
